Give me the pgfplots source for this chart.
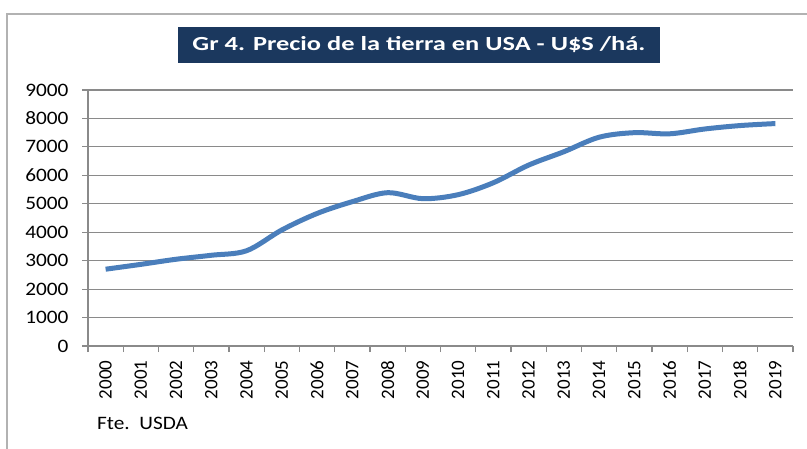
\documentclass[border=0pt]{standalone}
\usepackage{pgfplots}
\pgfplotsset{compat=1.18}
\usepackage{fontspec}
\setmainfont{Carlito}
\definecolor{navy}{HTML}{1B385E}
\definecolor{serie}{HTML}{4A7EBB}
\definecolor{gridc}{HTML}{8A8A8A}
\begin{document}
\begin{tikzpicture}
\useasboundingbox (0pt,0pt) rectangle (807pt,448pt);
\begin{scope}
\clip (0pt,0pt) rectangle (807pt,448pt);
\draw[line width=1.5pt, color=black!30] (7pt,434pt) rectangle (840pt,-20pt);
\end{scope}
\node[fill=navy, text=white, font=\fontsize{20}{24}\selectfont\bfseries, minimum width=482pt, minimum height=36pt, inner sep=0pt] at (419pt,403pt) {\scalebox{1.32}[1]{Gr 4. Precio de la tierra en USA - U\$S /há.}};
\node[anchor=base west, font=\fontsize{19}{22}\selectfont, inner sep=0pt] at (97pt,19pt) {\scalebox{1.12}[1]{Fte.\ \ USDA}};
\begin{axis}[
  at={(88pt,102pt)}, anchor=south west,
  scale only axis, width=705pt, height=256pt,
  xmin=1999.5, xmax=2019.5, ymin=0, ymax=9000,
  axis lines*=left,
  axis line style={gridc, line width=1.2pt},
  xtick={2000,...,2019},
  minor xtick={1999.5,2000.5,...,2019.5},
  major x tick style={draw=none},
  minor x tick style={gridc, line width=1.2pt},
  minor tick length=6pt,
  ytick={0,1000,...,9000},
  ymajorgrids,
  major grid style={gridc, line width=1.2pt},
  major y tick style={gridc, line width=1.2pt},
  major tick length=6pt,
  tick align=outside,
  /pgf/number format/1000 sep={},
  /pgf/number format/assume math mode=true,
  tick label style={font=\fontsize{19}{22}\selectfont},
  yticklabel={\scalebox{1.12}[1]{\pgfmathprintnumber{\tick}}},
  yticklabel shift=10pt,
  xticklabel shift=5pt,
  xticklabel style={rotate=90, anchor=east},
  clip=false,
]
\addplot[serie, line width=5pt, smooth, tension=0.55] coordinates {
(2000,2700) (2001,2870) (2002,3050) (2003,3190) (2004,3350)
(2005,4080) (2006,4660) (2007,5075) (2008,5390) (2009,5180)
(2010,5320) (2011,5740) (2012,6360) (2013,6830) (2014,7340)
(2015,7500) (2016,7460) (2017,7630) (2018,7750) (2019,7820)
};
\end{axis}
\end{tikzpicture}
\end{document}
